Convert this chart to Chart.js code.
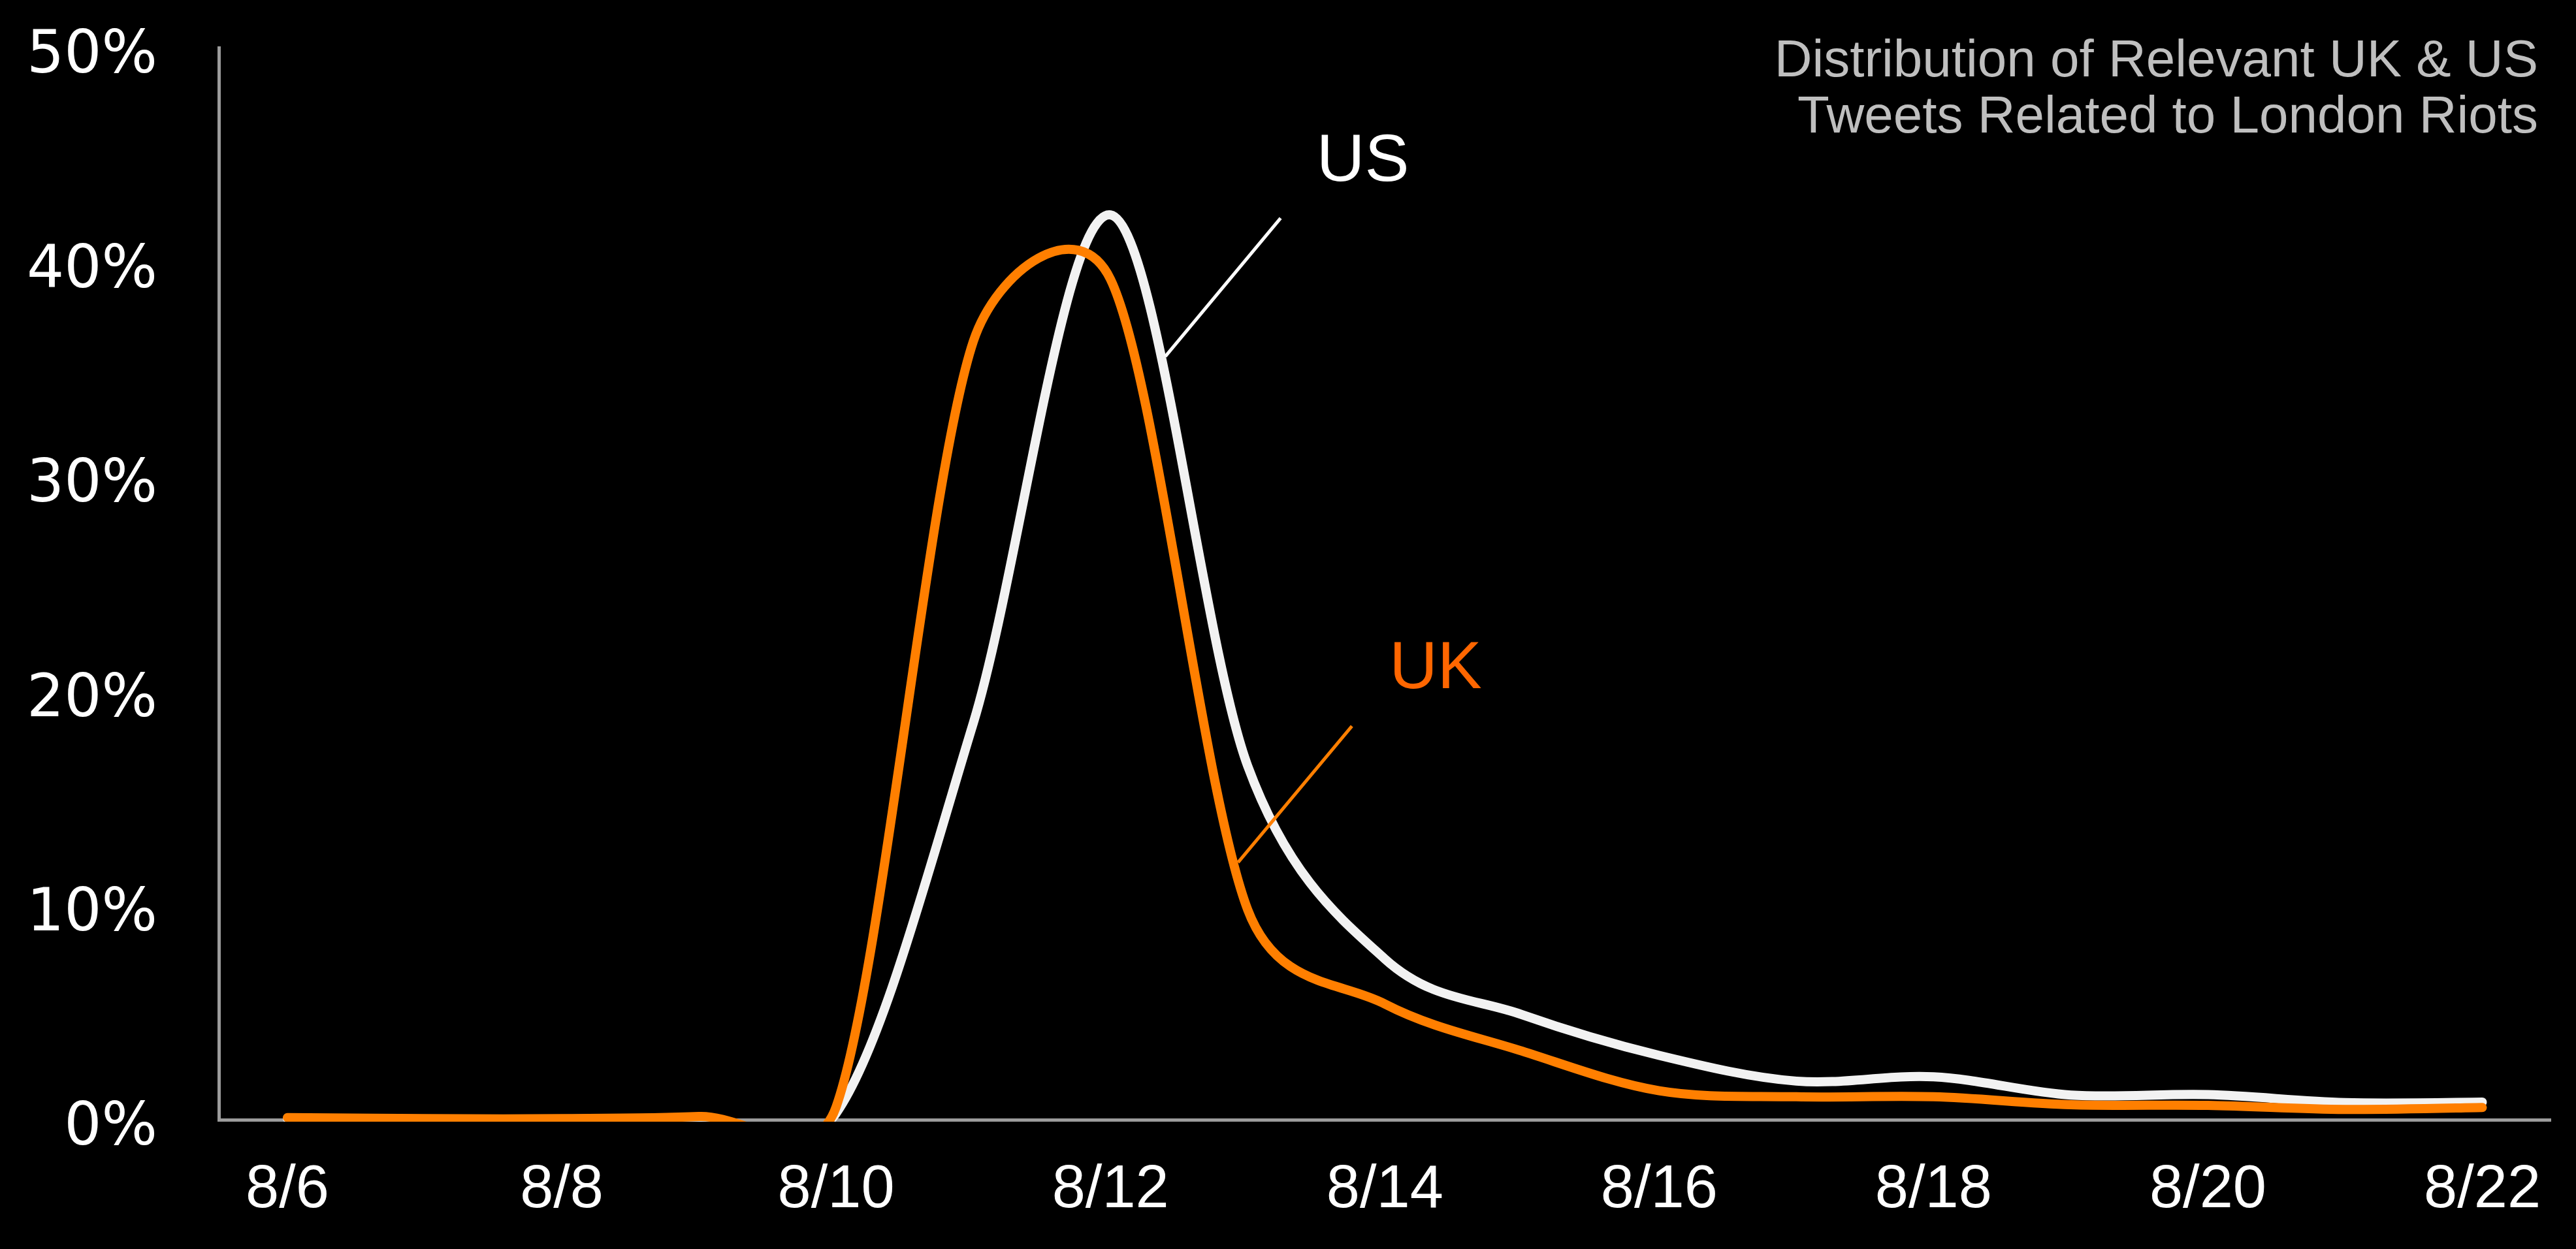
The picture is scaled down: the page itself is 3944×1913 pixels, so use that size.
<!DOCTYPE html>
<html>
<head>
<meta charset="utf-8">
<script src="https://cdn.jsdelivr.net/npm/chart.js@4/dist/chart.umd.min.js"></script>
<style>
html,body{margin:0;padding:0;background:#000;overflow:hidden}
#wrap{width:3944px;height:1913px;position:relative;background:#000}
</style>
</head>
<body>
<div id="wrap"><canvas id="c"></canvas></div>
<script>
// ---- data (percent of tweets per day) ----
const dates   = ['8/6','8/7','8/8','8/9','8/10','8/11','8/12','8/13','8/14','8/15','8/16','8/17','8/18','8/19','8/20','8/21','8/22'];
const ukShare = [0.1, 0.05, 0.05, 0.15, 0.6, 36.3, 39.2, 9.8, 5.4, 3.2, 1.35, 1.07, 1.07, 0.7, 0.67, 0.48, 0.57];
const usShare = [0.05, 0.03, 0.03, 0.1, 0.3, 18.5, 42.2, 16.5, 7.5, 4.9, 3.0, 1.8, 2.0, 1.15, 1.17, 0.8, 0.82];
const yTickValues = [0, 10, 20, 30, 40, 50];
const titleLines = ['Distribution of Relevant UK & US', 'Tweets Related to London Riots'];
const seriesNames = ['UK', 'US'];

// callouts anchored in data units (category index, percent)
const callouts = [
  {text: 'US', color: '#FFFFFF', lineColor: '#FFFFFF', from: [6.40, 35.6], to: [7.24, 42.05], label: [7.84, 44.65]},
  {text: 'UK', color: '#FF6600', lineColor: '#FF7F00', from: [6.93, 12.0], to: [7.76, 18.36], label: [8.37, 20.97]}
];

// Smoothed-line control points in the style of spreadsheet "smoothed line" charts
const smoothing = {
  id: 'smoothing',
  beforeDatasetDraw(chart, args) {
    const line = args.meta.dataset;
    const pts = args.meta.data;
    if (!line || !pts || pts.length < 2) return;
    if (line.updateControlPoints) line.updateControlPoints(chart.chartArea, 'x');
    const n = pts.length;
    const P = i => pts[Math.max(0, Math.min(n - 1, i))];
    const dist = (a, b) => Math.hypot(b.x - a.x, b.y - a.y);
    for (let i = 0; i < n - 1; i++) {
      const p0 = P(i - 1), p1 = P(i), p2 = P(i + 1), p3 = P(i + 2);
      const d12 = dist(p1, p2), d02 = dist(p0, p2), d13 = dist(p1, p3);
      let f1 = 1 / 6, f2 = 1 / 6;
      if (d02 > 0 && d02 * f1 > d12 / 2) f1 = d12 / (2 * d02);
      if (d13 > 0 && d13 * f2 > d12 / 2) f2 = d12 / (2 * d13);
      p1.cp2x = p1.x + f1 * (p2.x - p0.x);
      p1.cp2y = p1.y + f1 * (p2.y - p0.y);
      p2.cp1x = p2.x - f2 * (p3.x - p1.x);
      p2.cp1y = p2.y - f2 * (p3.y - p1.y);
    }
    P(0).cp1x = P(0).x; P(0).cp1y = P(0).y;
    P(n - 1).cp2x = P(n - 1).x; P(n - 1).cp2y = P(n - 1).y;
    line._path = undefined;
  }
};

const overlay = {
  id: 'overlay',
  afterDatasetsDraw(chart) {
    const {ctx, scales: {x, y}} = chart;
    ctx.save();
    callouts.forEach(c => {
      ctx.strokeStyle = c.lineColor;
      ctx.lineWidth = 5;
      ctx.lineCap = 'butt';
      ctx.beginPath();
      ctx.moveTo(x.getPixelForValue(c.from[0]), y.getPixelForValue(c.from[1]));
      ctx.lineTo(x.getPixelForValue(c.to[0]), y.getPixelForValue(c.to[1]));
      ctx.stroke();
      ctx.fillStyle = c.color;
      ctx.font = '102px "Liberation Sans", Arial, sans-serif';
      ctx.textAlign = 'center';
      ctx.textBaseline = 'middle';
      ctx.fillText(c.text, x.getPixelForValue(c.label[0]), y.getPixelForValue(c.label[1]));
    });
    ctx.fillStyle = '#BFBFBF';
    ctx.font = '80px "Liberation Sans", Arial, sans-serif';
    ctx.textAlign = 'right';
    ctx.textBaseline = 'alphabetic';
    ctx.fillText(titleLines[0], chart.width - 58, 117);
    ctx.fillText(titleLines[1], chart.width - 58, 203);
    ctx.restore();
  }
};

new Chart(document.getElementById('c'), {
  type: 'line',
  data: {
    labels: dates,
    datasets: [
      {label: seriesNames[0], data: ukShare, borderColor: '#FF7F00', backgroundColor: '#FF7F00'},
      {label: seriesNames[1], data: usShare, borderColor: '#F2F2F2', backgroundColor: '#F2F2F2'}
    ]
  },
  options: {
    responsive: true,
    maintainAspectRatio: false,
    devicePixelRatio: 1,
    animation: false,
    layout: {padding: {top: 73, right: 32, left: 0, bottom: 0}},
    elements: {
      line: {borderWidth: 14, tension: 0.4, capBezierPoints: false, borderCapStyle: 'round', borderJoinStyle: 'round', fill: false},
      point: {radius: 0, hoverRadius: 0}
    },
    datasets: {line: {clip: {left: 60, top: 60, right: 60, bottom: 3}}},
    plugins: {legend: {display: false}, tooltip: {enabled: false}, title: {display: false}},
    scales: {
      x: {
        type: 'category',
        offset: true,
        grid: {display: false, drawTicks: false},
        border: {display: true, color: '#9C9C9C', width: 5},
        ticks: {
          autoSkip: false, maxRotation: 0, minRotation: 0, padding: 53,
          color: '#FFFFFF',
          font: {family: '"Liberation Sans", Arial, sans-serif', size: 92},
          callback: (v, i) => (i % 2 === 0 ? dates[i] : '')
        },
        afterFit: s => { s.height = 198; }
      },
      y: {
        min: yTickValues[0], max: yTickValues[yTickValues.length - 1],
        grid: {display: false, drawTicks: false},
        border: {display: true, color: '#9C9C9C', width: 5},
        afterBuildTicks: s => { s.ticks = yTickValues.map(v => ({value: v})); },
        ticks: {
          padding: 94,
          labelOffset: 15,
          color: '#FFFFFF',
          font: {family: '"DejaVu Sans", Verdana, sans-serif', size: 90},
          callback: v => v + '%'
        },
        afterFit: s => { s.width = 335; s.paddingTop = 0; s.paddingBottom = 0; }
      }
    }
  },
  plugins: [smoothing, overlay]
});
</script>
</body>
</html>
